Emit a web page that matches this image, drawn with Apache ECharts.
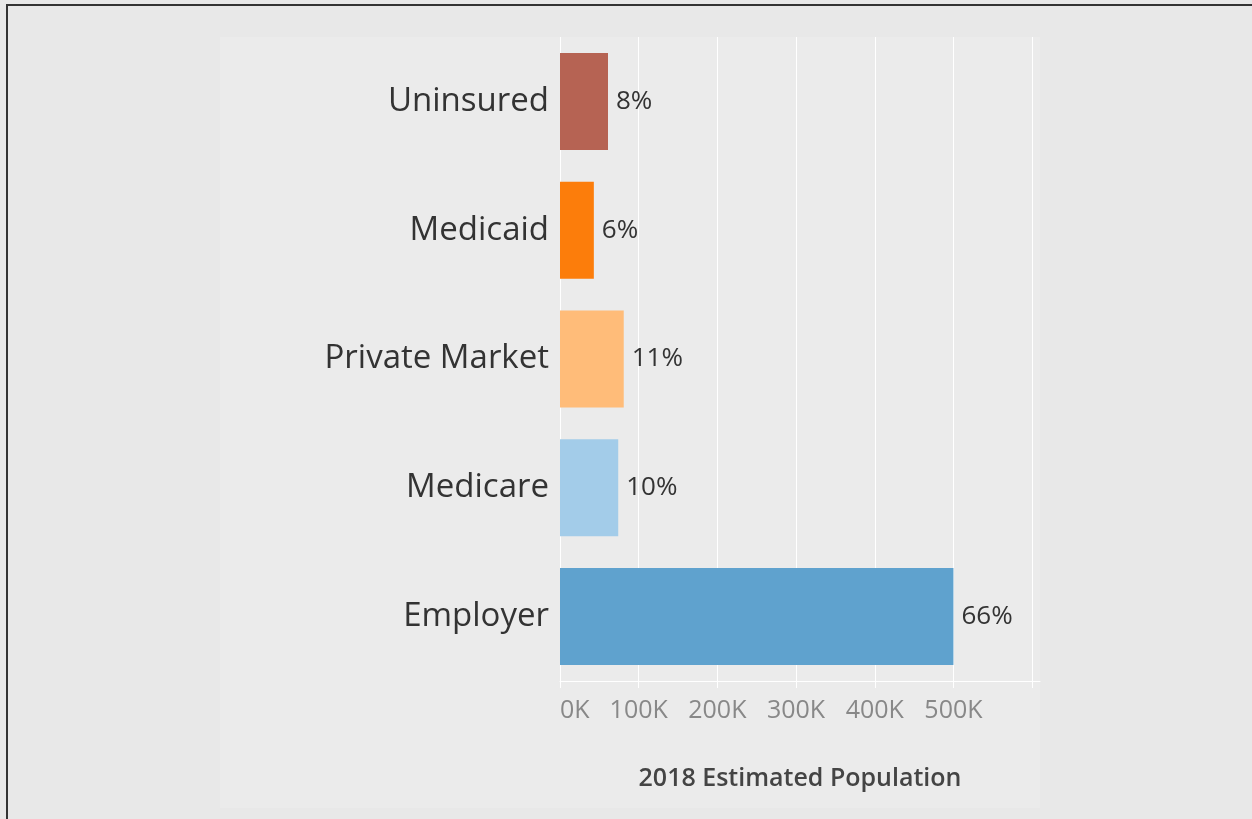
<!DOCTYPE html>
<html>
<head>
<meta charset="utf-8">
<script src="https://cdn.jsdelivr.net/npm/echarts@6/dist/echarts.min.js"></script>
<style>
html,body{margin:0;padding:0;background:#e8e8e8;}
#chart{width:1252px;height:819px;}
</style>
</head>
<body>
<div id="chart"></div>
<script>
const categories = ["Uninsured", "Medicaid", "Private Market", "Medicare", "Employer"];
const populations = [61000, 43000, 81000, 74000, 500000];
const percentLabels = ["8%", "6%", "11%", "10%", "66%"];
const barColors = ["#b66353", "#fc7d0b", "#ffbc79", "#a3cce9", "#5fa2ce"];
const xTickLabels = ["0K", "100K", "200K", "300K", "400K", "500K", ""];
const axisTitle = "2018 Estimated Population";

const chart = echarts.init(document.getElementById('chart'));
chart.setOption({
  backgroundColor: '#e8e8e8',
  animation: false,
  graphic: [
    { type: 'rect', shape: { x: 220, y: 37, width: 820, height: 771 }, style: { fill: '#ebebeb' }, z: -10 },
    { type: 'rect', shape: { x: 6, y: 4, width: 1246, height: 2 }, style: { fill: '#333333' }, z: 100 },
    { type: 'rect', shape: { x: 6, y: 4, width: 2, height: 815 }, style: { fill: '#333333' }, z: 100 }
  ],
  grid: { left: 560, right: 212, top: 37, bottom: 138, containLabel: false },
  xAxis: {
    type: 'value',
    min: 0,
    max: 610000,
    interval: 100000,
    name: axisTitle,
    nameLocation: 'middle',
    nameGap: 85,
    nameTextStyle: { fontFamily: 'Open Sans', fontSize: 25, fontWeight: 600, color: '#444444' },
    axisLine: { show: true, lineStyle: { color: '#ffffff', width: 1 } },
    axisTick: { show: true, length: 7, lineStyle: { color: '#ffffff' } },
    splitLine: { show: true, showMaxLine: false, lineStyle: { color: '#ffffff', width: 1 } },
    axisLabel: {
      margin: 17,
      fontFamily: 'Open Sans',
      fontSize: 25,
      color: '#888888',
      alignMinLabel: 'left',
      showMaxLabel: false,
      formatter: function (v) { const i = Math.round(v / 100000); return xTickLabels[i] !== undefined ? xTickLabels[i] : ''; }
    }
  },
  yAxis: {
    type: 'category',
    data: categories,
    inverse: true,
    axisLine: { show: false },
    axisTick: { show: false },
    splitLine: { show: false },
    axisLabel: { margin: 11, fontFamily: 'Open Sans', fontSize: 33, color: '#333333', padding: [4, 0, 0, 0] }
  },
  series: [{
    type: 'bar',
    barWidth: 97,
    data: populations.map((v, i) => ({ value: v, itemStyle: { color: barColors[i] } })),
    label: {
      show: true,
      position: 'right',
      distance: 8,
      fontFamily: 'Open Sans',
      fontSize: 26,
      color: '#333333',
      formatter: function (p) { return percentLabels[p.dataIndex]; }
    }
  }]
});
</script>
</body>
</html>
